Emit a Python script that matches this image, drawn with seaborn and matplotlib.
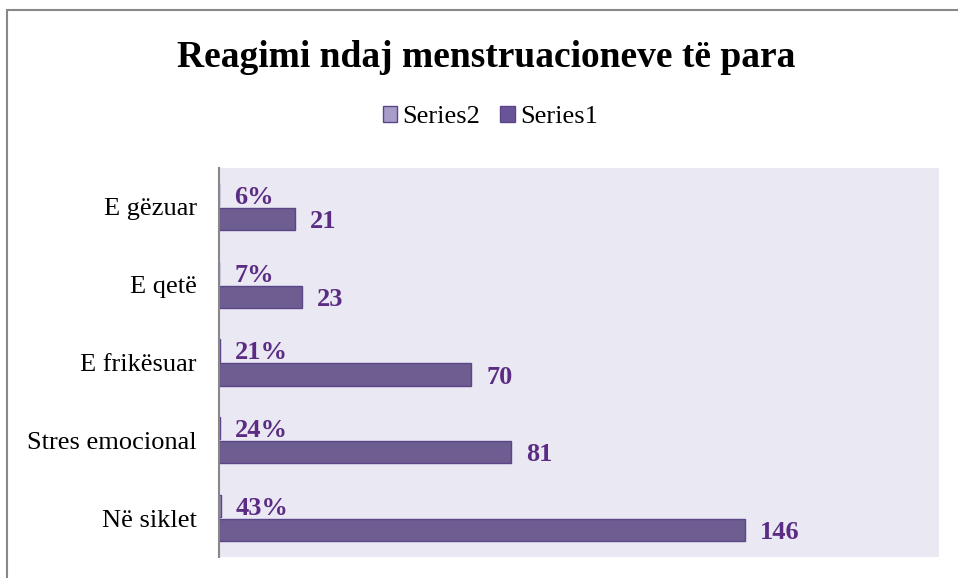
import pandas as pd
import matplotlib.pyplot as plt
import seaborn as sns
from matplotlib.lines import Line2D
from matplotlib.patches import Patch

# data
categories = ['E gëzuar', 'E qetë', 'E frikësuar', 'Stres emocional', 'Në siklet']
series1 = [21, 23, 70, 81, 146]
series2 = [0.06, 0.07, 0.21, 0.24, 0.43]
pct_labels = ['6%', '7%', '21%', '24%', '43%']

df = pd.DataFrame({
    'category': categories * 2,
    'value': series2 + series1,
    'series': ['Series2'] * len(categories) + ['Series1'] * len(categories),
})

sns.set_style('white')
plt.rcParams['font.family'] = ['Liberation Serif', 'DejaVu Serif']
plt.rcParams['text.color'] = 'black'
plt.rcParams['ytick.color'] = 'black'

colors = {'Series2': '#A89CC8', 'Series1': '#6A5499'}
label_color = '#5B2C83'

fig = plt.figure(figsize=(9.58, 5.78), dpi=100)
ax = fig.add_axes([0.2286, 0.0363, 0.7516, 0.673])
ax.set_facecolor('#EAE8F2')

sns.barplot(data=df, y='category', x='value', hue='series',
            hue_order=['Series2', 'Series1'], order=categories,
            palette=colors, width=0.62, gap=0.08, orient='h',
            edgecolor='#5B4688', linewidth=1.0, legend=False, ax=ax)

ax.set_xlim(0, 200)
ax.set_ylim(4.5, -0.5)
ax.set_xlabel('')
ax.set_ylabel('')
ax.set_xticks([])
ax.tick_params(axis='y', labelsize=19, length=0, pad=16, labelcolor='black')
for s in ['top', 'right', 'bottom']:
    ax.spines[s].set_visible(False)
ax.spines['left'].set_color('#888888')
ax.spines['left'].set_linewidth(1.5)

# labels
ax.bar_label(ax.containers[0], labels=pct_labels, padding=11,
             fontsize=19, fontweight='bold', color=label_color)
ax.bar_label(ax.containers[1], labels=[str(v) for v in series1], padding=11,
             fontsize=19, fontweight='bold', color=label_color)
for t in ax.texts:
    t.set_va('center_baseline')

handles = [Patch(facecolor=colors['Series2'], edgecolor='#5B4688'),
           Patch(facecolor=colors['Series1'], edgecolor='#5B4688')]
fig.legend(handles, ['Series2', 'Series1'], loc='center', bbox_to_anchor=(0.512, 0.797),
           ncol=2, frameon=False, fontsize=19, handlelength=0.55, handleheight=0.55,
           handletextpad=0.2, columnspacing=0.75)

fig.suptitle('Reagimi ndaj menstruacioneve të para', x=0.508, y=0.9, va='center',
             fontsize=27, fontweight='bold', color='black')

# outer chart border (cropped)
fig.add_artist(Line2D([0.0073, 0.0073], [0, 0.983], color='#888888', lw=1.5))
fig.add_artist(Line2D([0.0073, 1], [0.983, 0.983], color='#888888', lw=1.5))

plt.savefig('out.png', dpi=100)
